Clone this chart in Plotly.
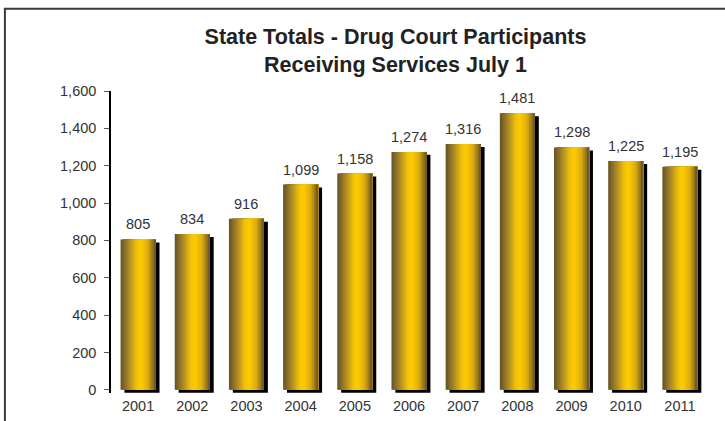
import plotly.graph_objects as go

years = ["2001", "2002", "2003", "2004", "2005", "2006", "2007", "2008", "2009", "2010", "2011"]
participants = [805, 834, 916, 1099, 1158, 1274, 1316, 1481, 1298, 1225, 1195]
y_ticks = [0, 200, 400, 600, 800, 1000, 1200, 1400, 1600]

FONT = "Liberation Sans, Arial, sans-serif"
W = 0.647          # bar width (category units)
N = 24             # gradient strips
SHIFT_X = 0.072    # shadow horizontal offset (category units)
SHIFT_Y = 16       # shadow vertical drop (value units)

stops = [(0.0, (100, 82, 38)), (0.2, (160, 128, 40)), (0.45, (240, 192, 12)),
         (0.58, (255, 204, 0)), (0.78, (220, 172, 18)), (1.0, (105, 84, 34))]

def grad(t):
    for (t0, c0), (t1, c1) in zip(stops[:-1], stops[1:]):
        if t0 <= t <= t1:
            f = (t - t0) / (t1 - t0)
            return "rgb(%d,%d,%d)" % tuple(round(a + (b - a) * f) for a, b in zip(c0, c1))
    return "rgb(%d,%d,%d)" % stops[-1][1]

fig = go.Figure()
# shadow
fig.add_trace(go.Bar(x=years, y=participants, base=[-SHIFT_Y] * len(years),
                     width=W, offset=-W / 2 + SHIFT_X,
                     marker=dict(color="black", line=dict(width=0)),
                     hoverinfo="skip", showlegend=False))
# gradient strips
sw = W / N
for i in range(N):
    t = (i + 0.5) / N
    fig.add_trace(go.Bar(x=years, y=participants, width=W - i * sw,
                         offset=-W / 2 + i * sw,
                         marker=dict(color=grad(t), line=dict(width=0)),
                         hoverinfo="skip", showlegend=False))

# value labels (category axis: annotation x is the category's serial index)
for idx, v in enumerate(participants):
    fig.add_annotation(x=idx, y=v, text=f"{v:,}", showarrow=False,
                       yanchor="bottom", yshift=5,
                       font=dict(family=FONT, size=14.5, color="#333333"))

fig.update_layout(
    width=725, height=421, barmode="overlay",
    margin=dict(l=111, r=18, t=91, b=28, autoexpand=False),
    paper_bgcolor="white", plot_bgcolor="white",
    font=dict(family=FONT, color="#333333"),
    title=dict(text="<b>State Totals - Drug Court Participants<br>Receiving Services July 1</b>",
               x=0.5455, xref="container", xanchor="center",
               y=1 - 44 / 421, yref="container", yanchor="top",
               font=dict(family=FONT, size=21.5, color="#222222")),
    xaxis=dict(type="category", categoryorder="array", categoryarray=years,
               range=[-0.5, len(years) - 0.5],
               showline=False, ticks="", showgrid=False, zeroline=False,
               ticklabelstandoff=2,
               tickfont=dict(family=FONT, size=14.5, color="#333333")),
    yaxis=dict(range=[-17, 1600], tickvals=y_ticks, tickformat=",",
               showgrid=False, zeroline=False, showline=True, linecolor="black",
               linewidth=1.5, ticks="outside", ticklen=5, tickcolor="#555555",
               ticklabelstandoff=5,
               tickfont=dict(family=FONT, size=14.5, color="#333333")),
    shapes=[dict(type="rect", xref="paper", yref="paper",
                 x0=-0.178, x1=1.2, y0=-0.3, y1=1.2723,
                 line=dict(color="#3a3a3a", width=2), layer="below")],
)

fig.write_html("out.html", config={"displayModeBar": False},
               post_script="document.body.style.margin='0';document.body.style.overflow='hidden';")
